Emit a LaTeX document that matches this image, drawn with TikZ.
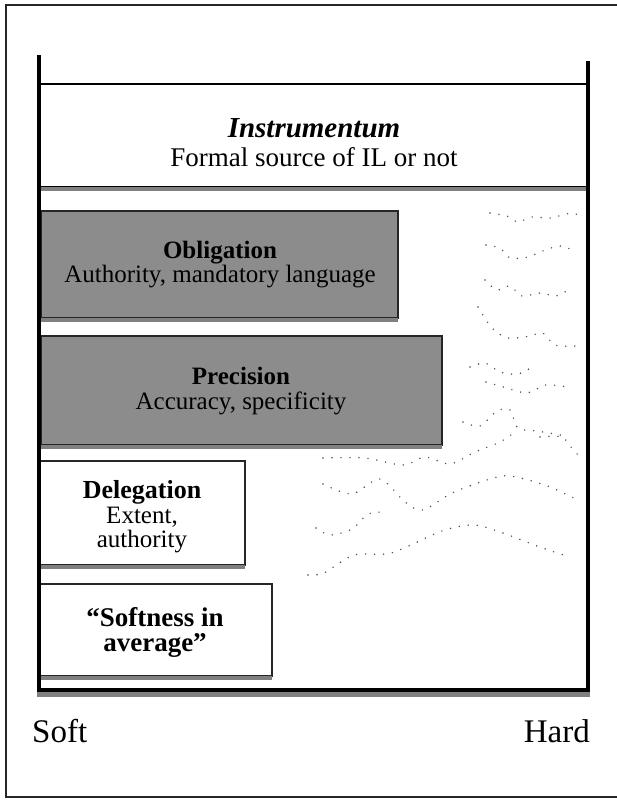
\documentclass[tikz,border=0pt]{standalone}
\usepackage{fontspec}
\setmainfont{Liberation Serif}
\newcommand\fsinst{\fontsize{29}{34}\selectfont}
\newcommand\fssub{\fontsize{27}{32}\selectfont}
\newcommand\fsbox{\fontsize{25}{30}\selectfont}
\newcommand\fsdel{\fontsize{26}{30}\selectfont}
\newcommand\fssoftn{\fontsize{27}{32}\selectfont}
\newcommand\fsaxis{\fontsize{33}{38}\selectfont}
\begin{document}
\begin{tikzpicture}[x=1pt,y=-1pt,
  frame/.style={line width=1.3pt, black!85},
  wall/.style={line width=3.2pt, black},
  shadowstrip/.style={fill=black!50},
  graybox/.style={draw=black!85, line width=1.5pt, fill=black!45},
  whitebox/.style={draw=black!85, line width=1.5pt, fill=white},
  dots/.style={line width=1.6pt, black!70, dash pattern=on 0pt off 9pt, line cap=round},
  lbl/.style={anchor=base, inner sep=0pt, align=center},
]
\useasboundingbox (0,0) rectangle (617,801);
% outer frame (right edge cut off)
\draw[frame] (617,5) -- (6,5) -- (6,797) -- (617,797);

% dotted wavy lines
\draw[dots] plot[smooth] coordinates {(490,213) (507,216) (518,222) (532,217) (550,218) (573,213) (583,220)};
\draw[dots] plot[smooth] coordinates {(486,245) (500,248) (510,258) (528,257) (545,250) (560,246) (570,249)};
\draw[dots] plot[smooth] coordinates {(485,280) (497,290) (510,286) (522,296) (540,293) (556,296) (568,290)};
\draw[dots] plot[smooth] coordinates {(478,307) (492,328) (508,338) (530,336) (543,333) (555,345) (575,346)};
\draw[dots] plot[smooth] coordinates {(470,367) (485,363) (500,372) (518,374) (534,366)};
\draw[dots] plot[smooth] coordinates {(486,382) (500,386) (527,393) (545,385) (568,387)};
\draw[dots] plot[smooth] coordinates {(463,422) (480,426) (497,411) (510,410) (518,428) (537,431) (555,434) (565,436)};
\draw[dots] plot[smooth] coordinates {(323,458) (365,458) (403,465) (425,457) (450,464) (475,452) (500,442) (515,432)};
\draw[dots] plot[smooth] coordinates {(540,437) (562,437) (574,451) (583,459)};
\draw[dots] plot[smooth] coordinates {(323,484) (352,494) (380,479) (405,502) (423,510) (452,493) (490,479) (510,476) (545,485) (576,499)};
\draw[dots] plot[smooth] coordinates {(316,528) (330,535) (352,529) (368,514) (385,512)};
\draw[dots] plot[smooth] coordinates {(308,575) (324,573) (354,555) (391,553) (442,531) (474,525) (503,533) (537,546) (569,557)};

% Instrumentum band
\draw[line width=2pt] (39,84) -- (588,84);
\fill[shadowstrip] (39,186) rectangle (588,191);
\draw[line width=1pt] (39,186) -- (588,186);

% boxes
\draw[graybox] (41,211) rectangle (398,318);
\fill[shadowstrip] (41,318) rectangle (398,322);
\draw[graybox] (41,336) rectangle (442,445);
\fill[shadowstrip] (41,445) rectangle (442,449);
\draw[whitebox] (40,461) rectangle (245,565);
\fill[shadowstrip] (40,565) rectangle (245,569);
\draw[whitebox] (39,584) rectangle (272,676);
\fill[shadowstrip] (39,676) rectangle (272,680);

% container walls
\draw[wall] (39,55) -- (39,691);
\draw[wall] (588,61) -- (588,691);
\draw[wall] (37.4,690) -- (589.6,690);
\fill[shadowstrip] (37,692) rectangle (590,697);

% texts
\node[lbl, font=\fsinst\bfseries\itshape] (inst) at (314,137) {Instrumentum};
\node[lbl, font=\fssub] (instsub) at (314,166) {Formal source of IL or not};
\node[lbl, font=\fsbox\bfseries] (obl) at (220,258) {Obligation};
\node[lbl, font=\fsbox] (oblsub) at (220,282) {Authority, mandatory language};
\node[lbl, font=\fsbox\bfseries] (prec) at (241,384) {Precision};
\node[lbl, font=\fsbox] (precsub) at (241,409) {Accuracy, specificity};
\node[lbl, font=\fsdel\bfseries] (deleg) at (142,498) {Delegation};
\node[lbl, font=\fsbox] (delegsub1) at (142,523) {Extent,};
\node[lbl, font=\fsbox] (delegsub2) at (142,547) {authority};
\node[lbl, font=\fssoftn\bfseries] (soft1) at (155,626) {“Softness in};
\node[lbl, font=\fssoftn\bfseries] (soft2) at (155,651) {average”};
\node[anchor=base west, inner sep=0pt, font=\fsaxis] (softlbl) at (32,742) {Soft};
\node[anchor=base east, inner sep=0pt, font=\fsaxis] (hardlbl) at (590,742) {Hard};
\end{tikzpicture}
\end{document}
